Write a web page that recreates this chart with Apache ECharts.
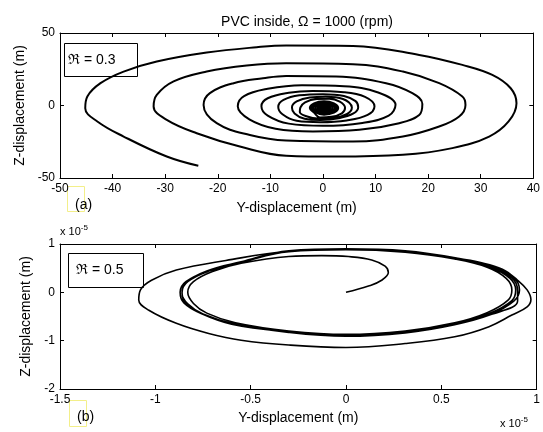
<!DOCTYPE html>
<html>
<head>
<meta charset="utf-8">
<script src="https://cdn.jsdelivr.net/npm/echarts@6/dist/echarts.min.js"></script>
<style>
  html, body { margin: 0; padding: 0; background: #fff; }
  #chartmain { width: 543px; height: 432px; }
</style>
</head>
<body>
<div id="chartmain"></div>
<script>
// top panel (a): R = 0.3, displacement in m (outer end -> centre)
var orbitA = [
  [-23.7,-41.6], [-29.7,-35.2], [-37.9,-21.4], [-42.9,-11], [-45.2,-1.9], [-44.8,6.2], [-42.3,15.4],
  [-37.9,23.4], [-31.6,30.3], [-22.1,36.5], [-12.6,40.2], [-7,41.4], [5.7,41.1], [18.3,34.9],
  [26.5,28], [32.2,21.1], [35.7,11.9], [36.8,1.6], [35.3,-11], [31.6,-21.4], [24.6,-29.4],
  [15.2,-34], [2.5,-35.2], [-7,-34.6],
  [-15.8,-28.3], [-24,-19.1], [-29.7,-9.9], [-32.2,-0.7], [-31.6,7.3], [-28.4,16.6], [-22.1,23.4],
  [-14.5,27.6], [-7,29.2], [5.7,28.5], [15.2,23.4], [22.1,15.4], [26.5,6.2], [27.1,0.4],
  [25.9,-7.6], [22.1,-14.5], [15.2,-21.4], [5.7,-24.8], [-7,-24.1],
  [-13.9,-20.3], [-20.2,-12.2], [-22.7,0.4], [-21.5,8.5], [-17,15.4], [-11.4,18.8], [-7,20.4],
  [2.5,20], [12,15.4], [17,8.5], [18.9,1.1], [18.3,-6.5], [14.5,-12.2], [6.9,-16.8], [-1.9,-17.9],
  [-9,-16], [-14,-9.5], [-16.2,-0.5], [-15,6.5], [-10.5,11.5], [-4,14], [4,13.3], [10.5,9], [13.8,0.5],
  [12.5,-7], [7.5,-12], [0,-14],
  [-6.5,-12.5], [-10.5,-7], [-11.7,-0.5], [-10.5,5], [-6.5,8.8], [-2,10], [4,9.2], [8,6], [9.8,-0.5],
  [8.5,-6.5], [4.5,-10.3], [-0.5,-11.5],
  [-5,-10.5], [-7.7,-6], [-8.5,-1], [-7.5,3.8], [-4.5,7], [0,7.8], [4,6.6], [6.2,3], [6.7,-1.2],
  [5.8,-5.5], [3,-8.8], [-0.5,-10],
  [-3.5,-9.2], [-5.4,-5.5], [-5.9,-1.3], [-5,2.8], [-2.5,5.5], [0.5,6], [3.8,4.5], [5.5,-1.4],
  [4.6,-5.8], [2,-8.6], [-1,-9],
  [-3,-7.6], [-4.4,-4.5], [-4.3,-1.5], [-3.4,2.2], [-1.2,4.4], [1.2,4.6], [3.2,2.6], [4.2,-1.6],
  [3.6,-5.4], [1.6,-7.8], [-0.6,-8.2],
  [-1.7,-4.9], [-2.5,-1.7], [-1.7,1.5], [0.2,2.9], [2.1,1.5], [2.9,-1.7], [2.1,-4.9], [0.2,-6.3],
  [-1.5,-4.6], [-2.2,-1.7], [-1.5,1.2], [0.2,2.4], [1.9,1.2], [2.6,-1.7], [1.9,-4.6], [0.2,-5.8],
  [-1.2,-4.2], [-1.8,-1.7], [-1.2,0.8], [0.2,1.8], [1.6,0.8], [2.2,-1.7], [1.6,-4.2], [0.2,-5.2],
  [-0.9,-3.7], [-1.4,-1.7], [-0.9,0.3], [0.2,1.1], [1.3,0.3], [1.8,-1.7], [1.3,-3.7], [0.2,-4.5],
  [-0.6,-3.2], [-1,-1.7], [-0.6,-0.2], [0.2,0.4], [1,-0.2], [1.4,-1.7], [1,-3.2], [0.2,-3.8],
  [-0.4,-2.7], [-0.6,-1.7], [-0.4,-0.7], [0.2,-0.3], [0.8,-0.7], [1,-1.7], [0.8,-2.7], [0.2,-3.1],
  [0,-2.2], [-0.2,-1.7], [0,-1.2], [0.2,-1], [0.4,-1.2], [0.6,-1.7], [0.4,-2.2], [0.2,-2.4], [0.2,-1.7]
];

// bottom panel (b): R = 0.5, displacement in units of 1e-5 m (start at origin)
var orbitB = [
  [0,0], [0.118,0.13], [0.187,0.25], [0.222,0.41], [0.205,0.54], [0.135,0.67], [0.013,0.74],
  [-0.127,0.76], [-0.3,0.74],
  [-0.55,0.6], [-0.7,0.43], [-0.8,0.22], [-0.83,0], [-0.8,-0.23], [-0.73,-0.43], [-0.58,-0.63],
  [-0.3,-0.8], [0,-0.87], [0.31,-0.8], [0.57,-0.63], [0.74,-0.42], [0.85,-0.16], [0.87,0.05],
  [0.84,0.29], [0.74,0.52], [0.57,0.69], [0.31,0.83], [0,0.88], [-0.3,0.84],
  [-0.55,0.62], [-0.72,0.44], [-0.83,0.22], [-0.86,0], [-0.84,-0.23], [-0.76,-0.44], [-0.6,-0.65],
  [-0.3,-0.81], [0,-0.89], [0.31,-0.82], [0.57,-0.65], [0.75,-0.44], [0.87,-0.17], [0.89,0.05],
  [0.86,0.29], [0.75,0.53], [0.57,0.71], [0.31,0.85], [0,0.89], [-0.3,0.85],
  [-0.63,0.66], [-0.89,0.46], [-1.02,0.25], [-1.078,0.05], [-1.087,-0.16], [-1.034,-0.37],
  [-0.89,-0.64], [-0.72,-0.85], [-0.55,-0.99], [-0.3,-1.09], [0,-1.14], [0.31,-1.06], [0.57,-0.92],
  [0.75,-0.71], [0.87,-0.47], [0.95,-0.3], [0.97,-0.15], [0.95,0.05], [0.9,0.25], [0.82,0.48],
  [0.7,0.62], [0.57,0.71], [0.31,0.85], [0,0.9], [-0.3,0.86],
  [-0.55,0.63], [-0.72,0.45], [-0.84,0.22], [-0.87,0], [-0.85,-0.22], [-0.76,-0.44], [-0.6,-0.66],
  [-0.3,-0.82], [0,-0.9], [0.31,-0.83], [0.57,-0.66], [0.76,-0.45], [0.88,-0.18], [0.91,0.05],
  [0.88,0.3], [0.76,0.54], [0.58,0.71], [0.31,0.86], [0,0.9], [-0.3,0.86],
  [-0.55,0.63], [-0.73,0.44], [-0.84,0.2], [-0.86,-0.02], [-0.83,-0.24], [-0.75,-0.45],
  [-0.59,-0.65], [-0.3,-0.83], [0,-0.91], [0.31,-0.84], [0.57,-0.67], [0.76,-0.46], [0.9,-0.18],
  [0.9,0.04], [0.87,0.3], [0.76,0.53], [0.57,0.7], [0.31,0.85], [0,0.88]
];

var xTicksA = [-50, 40, 10];   // min, max, step
var yTicksA = [-50, 50, 50];
var xTicksB = [-1.5, 1, 0.5];
var yTicksB = [-2, 1, 1];

var FONT = 'Liberation Sans, Arial, sans-serif';

function axisPair(kind, grid, ticks, name, gap) {
  var base = {
    type: 'value', gridIndex: grid, min: ticks[0], max: ticks[1], interval: ticks[2],
    splitLine: { show: false },
    axisLine: { show: true, onZero: false, lineStyle: { color: '#000', width: 1 } },
    axisTick: { show: true, inside: true, length: 4, lineStyle: { color: '#000' } }
  };
  var main = Object.assign({}, base, {
    position: kind === 'x' ? 'bottom' : 'left',
    axisLabel: { color: '#000', fontFamily: FONT, fontSize: 12, margin: 5,
      formatter: function (v) { return String(v); } },
    name: name, nameLocation: 'middle', nameGap: gap,
    nameTextStyle: { color: '#000', fontFamily: FONT, fontSize: 14 }
  });
  var mirror = Object.assign({}, base, {
    position: kind === 'x' ? 'top' : 'right',
    axisLabel: { show: false }
  });
  return [main, mirror];
}

var xs = axisPair('x', 0, xTicksA, 'Y-displacement (m)', 23)
  .concat(axisPair('x', 1, xTicksB, 'Y-displacement (m)', 22));
var ys = axisPair('y', 0, yTicksA, 'Z-displacement (m)', 33)
  .concat(axisPair('y', 1, yTicksB, 'Z-displacement (m)', 26));

var chart = echarts.init(document.getElementById('chartmain'));
chart.setOption({
  animation: false,
  backgroundColor: '#fff',
  title: {
    text: 'PVC inside, Ω = 1000 (rpm)',
    left: 302, top: 10, textAlign: 'center',
    textStyle: { color: '#000', fontFamily: FONT, fontSize: 14, fontWeight: 'normal' }
  },
  grid: [
    { left: 60, top: 33, width: 477, height: 145 },
    { left: 60, top: 244, width: 477, height: 145 }
  ],
  xAxis: xs,
  yAxis: ys,
  series: [
    { type: 'line', xAxisIndex: 0, yAxisIndex: 0, data: orbitA, symbol: 'none', smooth: 0.4,
      lineStyle: { color: '#000', width: 2 } },
    { type: 'line', xAxisIndex: 2, yAxisIndex: 2, data: orbitB, symbol: 'none', smooth: 0.4,
      lineStyle: { color: '#000', width: 1.6 } }
  ],
  graphic: [
    { type: 'rect', shape: { x: 64.5, y: 43.5, width: 73, height: 33 },
      style: { fill: '#fff', stroke: '#000', lineWidth: 1 } },
    { type: 'text', x: 68, y: 60, style: { text: 'ℜ = 0.3', fill: '#000', font: '14px ' + FONT, verticalAlign: 'middle' } },
    { type: 'rect', shape: { x: 68.5, y: 253.5, width: 75, height: 34 },
      style: { fill: '#fff', stroke: '#000', lineWidth: 1 } },
    { type: 'text', x: 76, y: 270, style: { text: 'ℜ = 0.5', fill: '#000', font: '14px ' + FONT, verticalAlign: 'middle' } },
    { type: 'rect', shape: { x: 67.5, y: 186.5, width: 17, height: 25 },
      style: { fill: 'none', stroke: '#f3ef8a', lineWidth: 1 } },
    { type: 'text', x: 75, y: 205, style: { text: '(a)', fill: '#000', font: '14px ' + FONT, verticalAlign: 'middle' } },
    { type: 'rect', shape: { x: 69.5, y: 400.5, width: 17, height: 26 },
      style: { fill: 'none', stroke: '#f3ef8a', lineWidth: 1 } },
    { type: 'text', x: 77, y: 417, style: { text: '(b)', fill: '#000', font: '14px ' + FONT, verticalAlign: 'middle' } },
    { type: 'text', x: 60, y: 232, style: {
        text: 'x 10{s|-5}', fill: '#000', font: '11px ' + FONT, verticalAlign: 'middle',
        rich: { s: { fontSize: 8, fontFamily: FONT, verticalAlign: 'top', padding: [0, 0, 8, 0] } } } },
    { type: 'text', x: 500, y: 424, style: {
        text: 'x 10{s|-5}', fill: '#000', font: '11px ' + FONT, verticalAlign: 'middle',
        rich: { s: { fontSize: 8, fontFamily: FONT, verticalAlign: 'top', padding: [0, 0, 8, 0] } } } }
  ]
});
</script>
</body>
</html>
